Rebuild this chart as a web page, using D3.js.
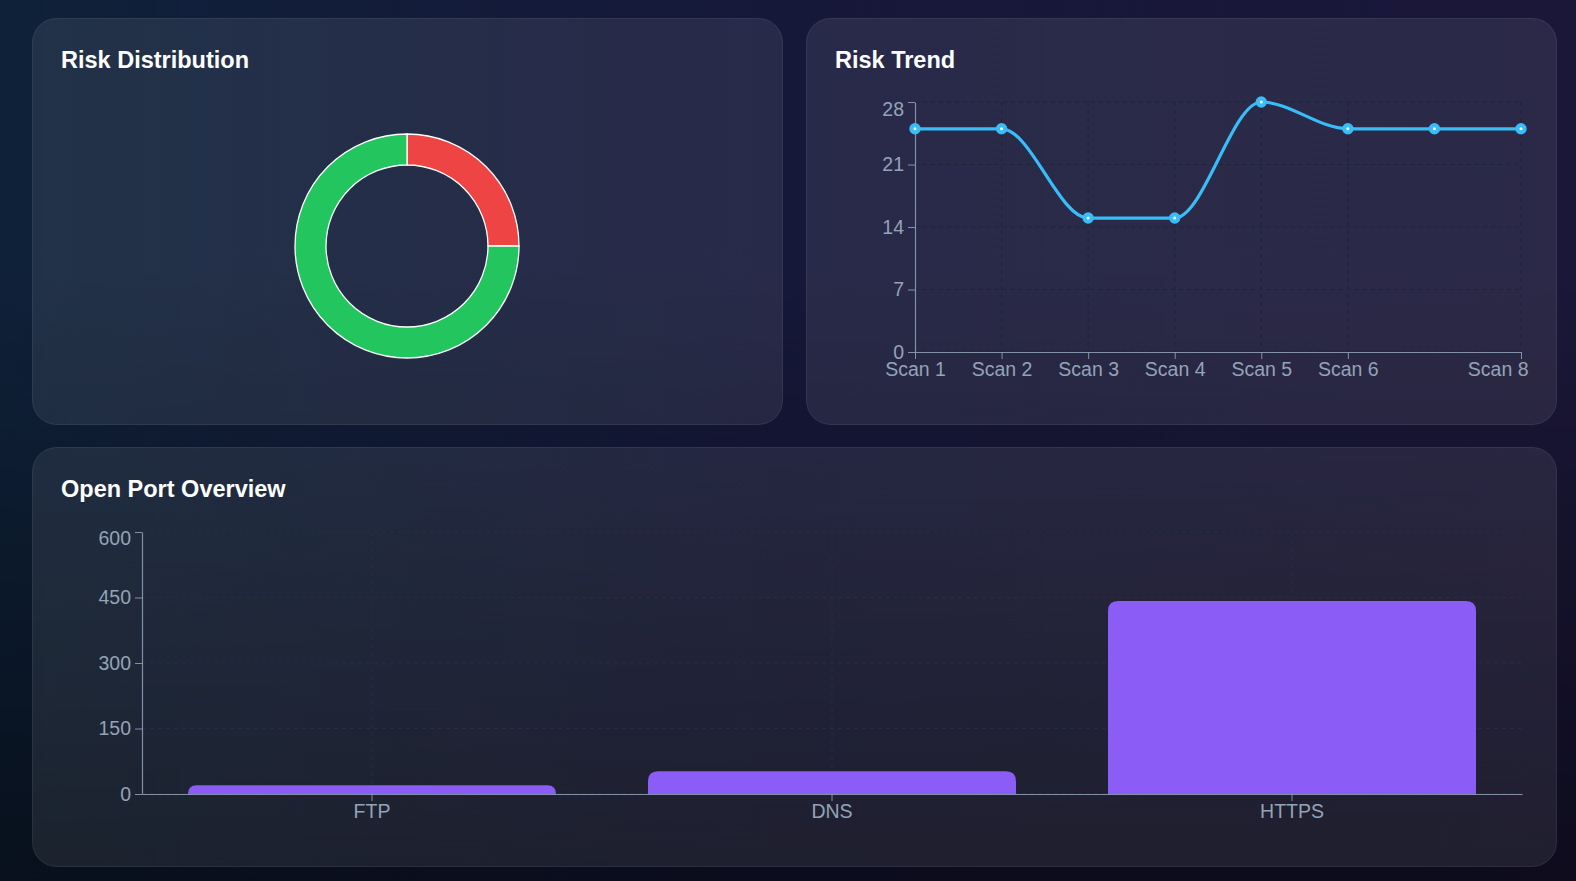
<!DOCTYPE html>
<html>
<head>
<meta charset="utf-8">
<script src="https://cdn.jsdelivr.net/npm/d3@7"></script>
<style>
  html, body {
    margin: 0;
    padding: 0;
    width: 1576px;
    height: 881px;
    overflow: hidden;
  }
  body {
    background-color: #0b1426;
    background-image:
      linear-gradient(to bottom, rgba(0,0,0,0) 30%, rgba(0,0,0,0.5) 100%),
      linear-gradient(to right, #0f2139 0%, #16183a 50%, #1b1739 100%);
    font-family: "Liberation Sans", Arial, sans-serif;
  }
  .card { fill: rgba(255,255,255,0.08); stroke: rgba(255,255,255,0.1); stroke-width: 1; }
  .title { fill: #fff; font-weight: bold; font-size: 23.5px; }
  .axis text { fill: #94a3b8; font-size: 19.5px; font-family: "Liberation Sans", Arial, sans-serif; }
  .axis path, .axis line { stroke: #94a3b8; stroke-opacity: 0.85; }
  .grid line { stroke-dasharray: 4 4; }
  .grid.trend line { stroke: #1b2439; stroke-opacity: 1; }
  .grid.ports line { stroke: #24304a; stroke-opacity: 0.8; }
</style>
</head>
<body>
<svg id="dash" width="1576" height="881"></svg>
<script>
// risk distribution
const riskLabels = ['High', 'Low'];
const riskValues = [1, 3];

// risk trend
const scanLabels = ['Scan 1', 'Scan 2', 'Scan 3', 'Scan 4', 'Scan 5', 'Scan 6', 'Scan 7', 'Scan 8'];
const riskScores = [25, 25, 15, 15, 28, 25, 25, 25];
const trendTicks = [0, 7, 14, 21, 28];
const shownScans = ['Scan 1', 'Scan 2', 'Scan 3', 'Scan 4', 'Scan 5', 'Scan 6', 'Scan 8'];

// open ports
const portLabels = ['FTP', 'DNS', 'HTTPS'];
const portCounts = [20, 52, 442];
const portTicks = [0, 150, 300, 450, 600];

const svg = d3.select('#dash');

const cards = [
    {x: 32, y: 18, w: 750, h: 406, title: 'Risk Distribution'},
    {x: 806, y: 18, w: 750, h: 406, title: 'Risk Trend'},
    {x: 32, y: 447, w: 1524, h: 419, title: 'Open Port Overview'}
];

svg.selectAll('rect.card')
    .data(cards)
    .enter()
    .append('rect')
    .attr('class', 'card')
    .attr('x', d => d.x + 0.5)
    .attr('y', d => d.y + 0.5)
    .attr('width', d => d.w)
    .attr('height', d => d.h)
    .attr('rx', 24);

svg.selectAll('text.title')
    .data(cards)
    .enter()
    .append('text')
    .attr('class', 'title')
    .attr('x', d => d.x + 29)
    .attr('y', d => d.y + 50)
    .text(d => d.title);

// ---- donut ----
const pie = d3.pie().sort(null).value(d => d);
const arc = d3.arc().innerRadius(81).outerRadius(112);
const riskColor = d3.scaleOrdinal(riskLabels, ['#ef4444', '#22c55e']);

svg.append('g')
    .attr('transform', 'translate(407,246)')
    .selectAll('path')
    .data(pie(riskValues))
    .enter()
    .append('path')
    .attr('d', arc)
    .attr('fill', (d, i) => riskColor(riskLabels[i]))
    .attr('stroke', '#fff')
    .attr('stroke-width', 1.3);

// ---- risk trend line ----
const xTrend = d3.scalePoint(scanLabels, [915, 1521]);
const yTrend = d3.scaleLinear([0, 28], [352, 102]);

const trendGrid = svg.append('g').attr('class', 'grid trend');
trendGrid.selectAll('line.h')
    .data(trendTicks)
    .enter()
    .append('line')
    .attr('x1', 915).attr('x2', 1521)
    .attr('y1', d => yTrend(d)).attr('y2', d => yTrend(d));
trendGrid.selectAll('line.v')
    .data(shownScans)
    .enter()
    .append('line')
    .attr('x1', d => xTrend(d)).attr('x2', d => xTrend(d))
    .attr('y1', 102).attr('y2', 352);

const yAxisTrend = svg.append('g')
    .attr('class', 'axis')
    .attr('transform', 'translate(915,0)')
    .call(d3.axisLeft(yTrend).tickValues(trendTicks).tickSize(7).tickPadding(4).tickSizeOuter(0));
yAxisTrend.selectAll('.tick text')
    .filter(d => d === 28)
    .attr('transform', 'translate(0,7)');

const xAxisTrend = svg.append('g')
    .attr('class', 'axis')
    .attr('transform', 'translate(0,352)')
    .call(d3.axisBottom(xTrend).tickValues(shownScans).tickSize(7).tickPadding(3).tickSizeOuter(0));
xAxisTrend.selectAll('.tick text')
    .filter(d => d === shownScans[shownScans.length - 1])
    .attr('text-anchor', 'end')
    .attr('dx', 7);

const line = d3.line()
    .x((d, i) => xTrend(scanLabels[i]))
    .y(d => yTrend(d))
    .curve(d3.curveMonotoneX);

svg.append('path')
    .datum(riskScores)
    .attr('d', line)
    .attr('fill', 'none')
    .attr('stroke', '#38bdf8')
    .attr('stroke-width', 3.2);

svg.append('g')
    .selectAll('circle')
    .data(riskScores)
    .enter()
    .append('circle')
    .attr('cx', (d, i) => xTrend(scanLabels[i]))
    .attr('cy', d => yTrend(d))
    .attr('r', 3.6)
    .attr('fill', '#fff')
    .attr('stroke', '#38bdf8')
    .attr('stroke-width', 4.2);

// ---- open ports bars ----
const xPorts = d3.scaleBand(portLabels, [142, 1522]).paddingInner(0.2).paddingOuter(0.1);
const yPorts = d3.scaleLinear([0, 600], [794, 532]);

const portGrid = svg.append('g').attr('class', 'grid ports');
portGrid.selectAll('line.h')
    .data(portTicks)
    .enter()
    .append('line')
    .attr('x1', 142).attr('x2', 1522)
    .attr('y1', d => yPorts(d)).attr('y2', d => yPorts(d));
portGrid.selectAll('line.v')
    .data(portLabels)
    .enter()
    .append('line')
    .attr('x1', d => xPorts(d) + xPorts.bandwidth() / 2)
    .attr('x2', d => xPorts(d) + xPorts.bandwidth() / 2)
    .attr('y1', 532).attr('y2', 794);

const roundTop = (x, y, w, h, r) => {
    r = Math.min(r, h, w / 2);
    return `M${x},${y + h}V${y + r}Q${x},${y} ${x + r},${y}H${x + w - r}Q${x + w},${y} ${x + w},${y + r}V${y + h}Z`;
};

svg.append('g')
    .selectAll('path')
    .data(portCounts)
    .enter()
    .append('path')
    .attr('d', (d, i) => roundTop(xPorts(portLabels[i]), yPorts(d), xPorts.bandwidth(), yPorts(0) - yPorts(d), 10))
    .attr('fill', '#8b5cf6');

const yAxisPorts = svg.append('g')
    .attr('class', 'axis')
    .attr('transform', 'translate(142,0)')
    .call(d3.axisLeft(yPorts).tickValues(portTicks).tickSize(7).tickPadding(4).tickSizeOuter(0));
yAxisPorts.selectAll('.tick text')
    .filter(d => d === 600)
    .attr('transform', 'translate(0,6)');

svg.append('g')
    .attr('class', 'axis')
    .attr('transform', 'translate(0,794)')
    .call(d3.axisBottom(xPorts).tickSize(7).tickPadding(3).tickSizeOuter(0));

svg.selectAll('.axis .domain').attr('stroke-width', 1.2);
</script>
</body>
</html>
